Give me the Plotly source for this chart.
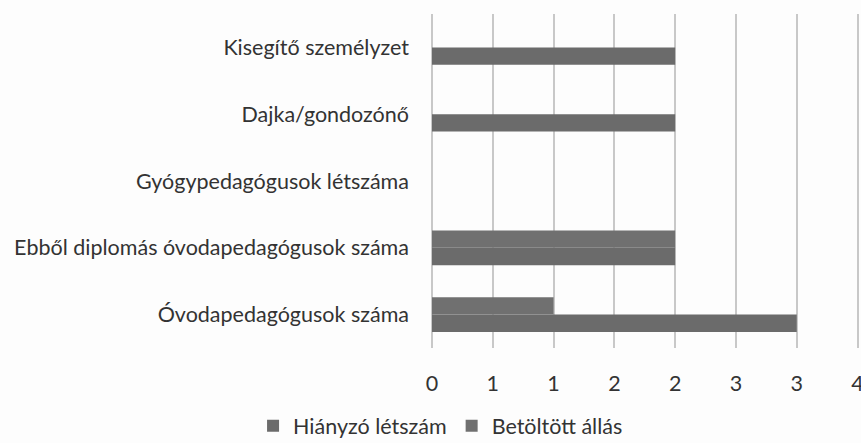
import plotly.graph_objects as go

categories = [
    "Óvodapedagógusok száma",
    "Ebből diplomás óvodapedagógusok száma",
    "Gyógypedagógusok létszáma",
    "Dajka/gondozónő",
    "Kisegítő személyzet",
]
hianyzo = [3, 2, 0, 2, 2]
betoltott = [1, 2, 0, 0, 0]
tick_vals = [0, 0.5, 1, 1.5, 2, 2.5, 3, 3.5]
tick_text = ["0", "1", "1", "2", "2", "3", "3", "4"]

FONT = "Lato, 'Open Sans', sans-serif"

fig = go.Figure()
fig.add_trace(go.Bar(y=categories, x=hianyzo, orientation="h", name="Hiányzó létszám",
                     marker=dict(color="#6b6b6b", line=dict(width=0))))
fig.add_trace(go.Bar(y=categories, x=betoltott, orientation="h", name="Betöltött állás",
                     marker=dict(color="#707070", line=dict(width=0))))

fig.update_layout(
    width=861, height=443,
    margin=dict(l=432, r=1, t=14, b=95, autoexpand=False),
    paper_bgcolor="#fdfdfd", plot_bgcolor="#fdfdfd",
    barmode="group", bargap=0.48, bargroupgap=0,
    font=dict(family=FONT, size=21.5, color="#333333"),
    showlegend=True,
    legend=dict(orientation="h", x=0.02, xanchor="center", y=-0.233, yanchor="middle",
                font=dict(size=21.5), itemwidth=30, traceorder="normal",
                bgcolor="rgba(0,0,0,0)"),
)
fig.update_xaxes(range=[0, 3.52], tickvals=tick_vals, ticktext=tick_text,
                 showgrid=True, gridcolor="#c8c8c8", gridwidth=2,
                 zeroline=True, zerolinecolor="#c8c8c8", zerolinewidth=2,
                 showline=False, ticks="", ticklabelstandoff=20, automargin=False,
                 ticklabeloverflow="allow", fixedrange=True)
fig.update_yaxes(showgrid=False, zeroline=False, showline=False, ticks="",
                 ticklabelstandoff=22, automargin=False, fixedrange=True)

fig.write_html("out.html", config={"displayModeBar": False},
               post_script="document.body.style.margin='0';document.body.style.background='#fdfdfd';")
